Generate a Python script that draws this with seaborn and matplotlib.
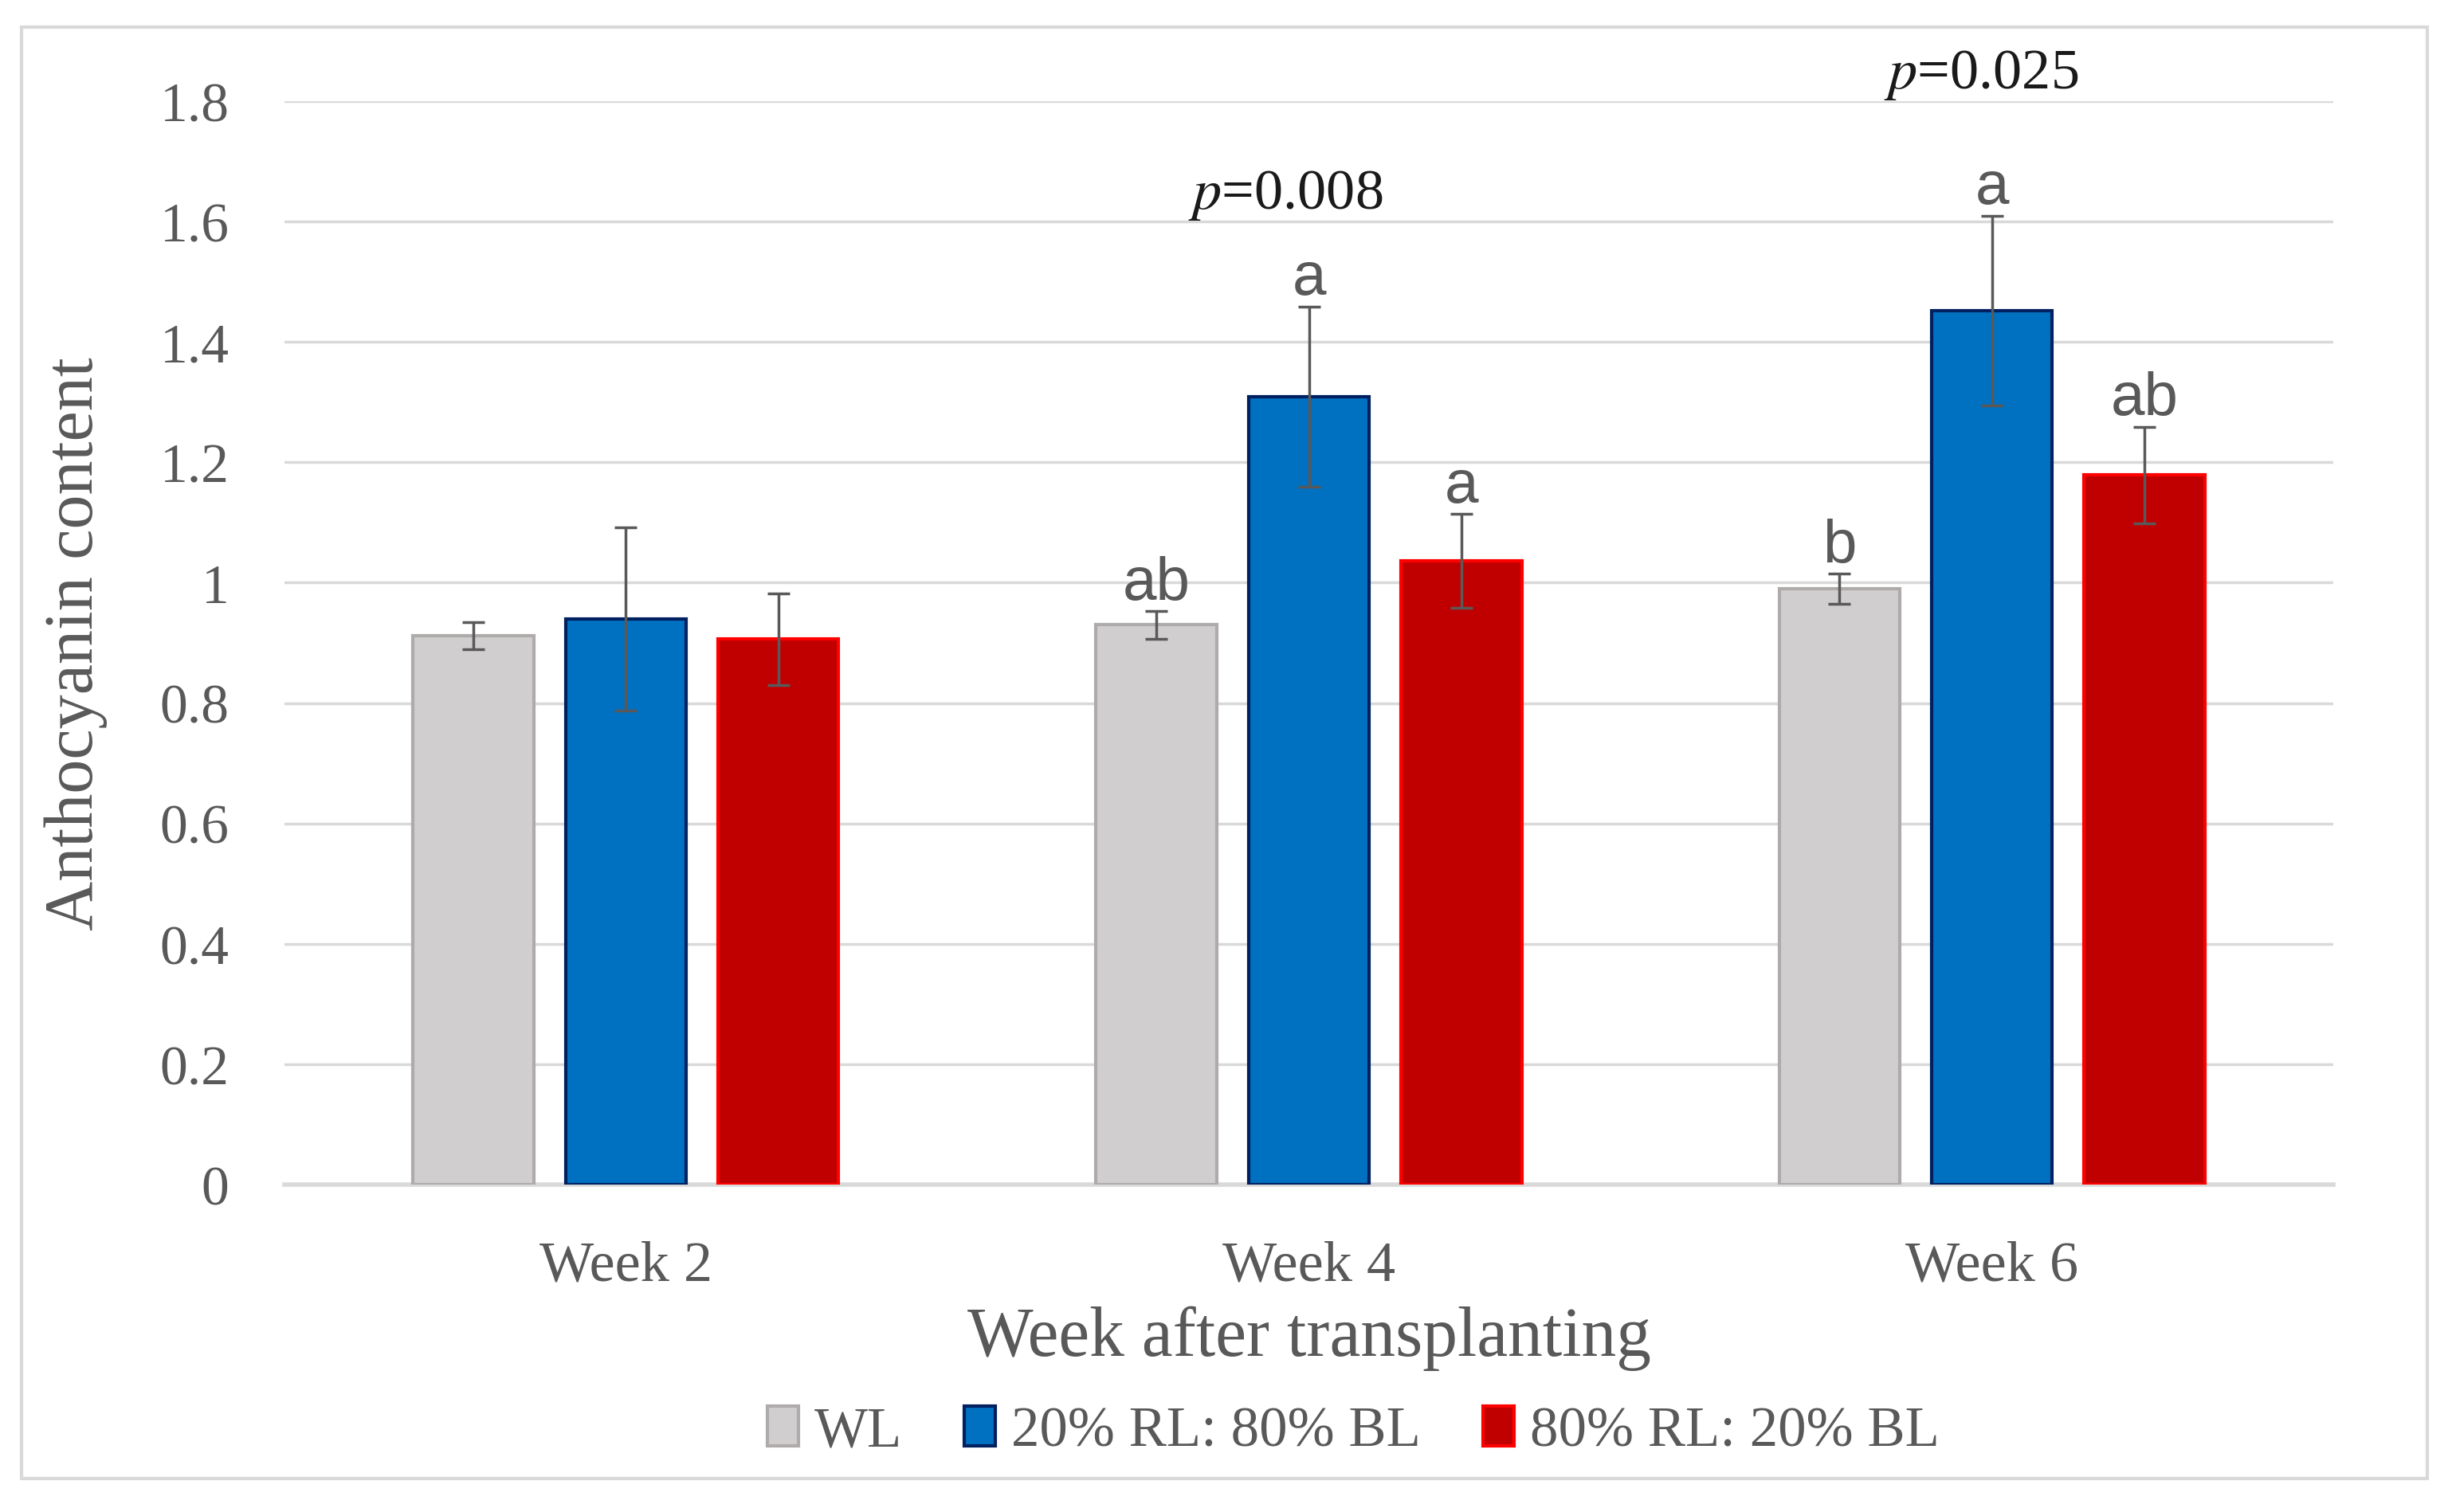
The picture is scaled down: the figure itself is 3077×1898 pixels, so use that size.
import matplotlib
matplotlib.use("Agg")
import matplotlib.pyplot as plt
import seaborn as sns
import pandas as pd
from matplotlib.patches import Patch, Rectangle

weeks = ["Week 2", "Week 4", "Week 6"]
treatments = ["WL", "20% RL: 80% BL", "80% RL: 20% BL"]
wl_mean = [0.912, 0.930, 0.990]
blue_mean = [0.940, 1.309, 1.452]
red_mean = [0.906, 1.036, 1.179]
wl_err = [0.022, 0.023, 0.025]
blue_err = [0.152, 0.150, 0.158]
red_err = [0.076, 0.078, 0.080]
wl_letters = ["", "ab", "b"]
blue_letters = ["", "a", "a"]
red_letters = ["", "a", "ab"]
p_labels = ["", "0.008", "0.025"]
ytick_vals = [0, 0.2, 0.4, 0.6, 0.8, 1.0, 1.2, 1.4, 1.6, 1.8]
ytick_labels = ["0", "0.2", "0.4", "0.6", "0.8", "1", "1.2", "1.4", "1.6", "1.8"]

means = [wl_mean, blue_mean, red_mean]
errs = [wl_err, blue_err, red_err]
letters = [wl_letters, blue_letters, red_letters]

rows = []
for t, m in zip(treatments, means):
    for w, v in zip(weeks, m):
        rows.append({"week": w, "treatment": t, "value": v})
df = pd.DataFrame(rows)

face = ["#D0CECE", "#0070C0", "#C00000"]
edge = ["#AFABAB", "#002060", "#FF0000"]
txt = "#595959"
serif = ["Liberation Serif", "DejaVu Serif"]
sans = ["Liberation Sans", "DejaVu Sans"]

sns.set_theme(style="white")
plt.rcParams["font.family"] = serif
plt.rcParams["mathtext.fontset"] = "stix"

fig = plt.figure(figsize=(30.77, 18.99), dpi=100)
ax = fig.add_axes([0.116, 0.2164, 0.8356, 0.7162])

sns.barplot(data=df, x="week", y="value", hue="treatment", hue_order=treatments,
            order=weeks, palette=face, saturation=1, width=0.67, gap=0.21,
            errorbar=None, linewidth=3, ax=ax, legend=False, zorder=3)

bar_containers = list(ax.containers)
for i, cont in enumerate(bar_containers):
    xs = []
    for bar in cont.patches:
        bar.set_edgecolor(edge[i])
        bar.set_linewidth(3)
        xs.append(bar.get_x() + bar.get_width() / 2)
    ax.errorbar(xs, means[i], yerr=errs[i], fmt="none", ecolor=txt,
                elinewidth=2.5, capsize=10, capthick=2.5, zorder=4)
    for x, m, e, lab in zip(xs, means[i], errs[i], letters[i]):
        if lab:
            ax.annotate(lab, (x, m + e), xytext=(0, 11), textcoords="offset points",
                        ha="center", va="baseline", fontsize=55, color=txt,
                        family=sans)

p_pos = [(0, 0), (0.966, 1.644), (1.984, 1.844)]
for (px, py), pl in zip(p_pos, p_labels):
    if pl:
        ax.text(px, py, r"$\mathit{p}$" + "=" + pl, ha="center", va="center",
                fontsize=52, color="#1a1a1a", clip_on=False)

ax.set_ylim(0, 1.8)
ax.set_xlim(-0.5, 2.5)
ax.set_yticks(ytick_vals)
ax.set_yticklabels(ytick_labels)
ax.yaxis.grid(True, color="#D9D9D9", linewidth=2.5)
ax.set_axisbelow(True)
for s in ["top", "right", "left"]:
    ax.spines[s].set_visible(False)
ax.spines["bottom"].set_color("#D9D9D9")
ax.spines["bottom"].set_linewidth(4)
ax.tick_params(axis="both", length=0, labelcolor=txt)
ax.tick_params(axis="y", pad=50, labelsize=50)
ax.tick_params(axis="x", pad=50, labelsize=52)
ax.set_xlabel("Week after transplanting", fontsize=63, color=txt, labelpad=12)
ax.set_ylabel("Anthocyanin content", fontsize=62, color=txt, labelpad=47)

handles = [Patch(facecolor=f, edgecolor=e, linewidth=3, label=t)
           for f, e, t in zip(face, edge, treatments)]
fig.legend(handles=handles, loc="center", bbox_to_anchor=(0.552, 0.053), ncol=3,
           frameon=False, fontsize=51, handlelength=0.55, handleheight=0.69,
           handletextpad=0.28, columnspacing=1.1, labelcolor=txt)

fig.patches.append(Rectangle((27 / 3077, 1 - 1857 / 1899), (3046 - 27) / 3077,
                             (1857 - 35) / 1899, transform=fig.transFigure,
                             fill=False, edgecolor="#D9D9D9", linewidth=3))

fig.savefig("out.png", dpi=100, facecolor="white")
